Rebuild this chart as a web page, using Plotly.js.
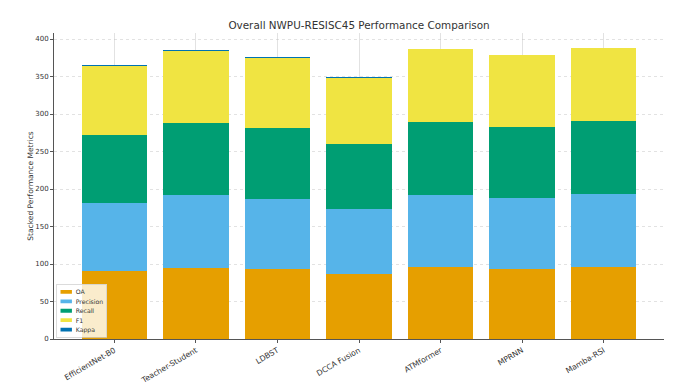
<!DOCTYPE html>
<html>
<head>
<meta charset="utf-8">
<script src="https://cdn.plot.ly/plotly-3.0.1.min.js"></script>
<style>html,body{margin:0;padding:0;background:#fff}#chart{width:680px;height:384px}</style>
</head>
<body>
<div id="chart"></div>
<script>
const categories = ["EfficientNet-B0", "Teacher-Student", "LDBST", "DCCA Fusion", "ATMformer", "MPRNN", "Mamba-RSI"];
const oa        = [90.7, 95.1, 93.3, 87.0, 95.6, 93.8, 96.0];
const precision = [91.1, 96.9, 93.4, 86.3, 96.8, 94.6, 96.9];
const recall    = [90.2, 96.0, 94.3, 86.7, 96.9, 94.7, 97.3];
const f1        = [91.9, 96.6, 93.9, 88.1, 96.9, 95.1, 97.4];
const kappa     = [0.89, 0.95, 0.92, 0.85, 0.96, 0.93, 0.96];

const seriesNames = ["OA", "Precision", "Recall", "F1", "Kappa"];
const seriesData = [oa, precision, recall, f1, kappa];
const colors = ["#E69F00", "#56B4E9", "#009E73", "#F0E442", "#0072B2"];

const traces = seriesNames.map((n, i) => ({
  type: "bar",
  name: n,
  x: categories,
  y: seriesData[i],
  width: 0.8,
  marker: {color: colors[i], line: {width: 0}}
}));

const font = "DejaVu Sans, sans-serif";
const gridCol = "rgba(190,190,190,0.55)";
const layout = {
  width: 680, height: 384,
  margin: {l: 54, r: 16, t: 33, b: 45},
  paper_bgcolor: "#fff", plot_bgcolor: "#fff",
  barmode: "stack",
  font: {family: font, size: 8, color: "#333"},
  title: {text: "Overall NWPU-RESISC45 Performance Comparison", x: 0.528, xanchor: "center", y: 0.935, yanchor: "middle", font: {family: font, size: 10.4, color: "#333"}},
  xaxis: {
    range: [-0.74, 6.74],
    tickangle: -30,
    tickfont: {size: 7.7, color: "#333"},
    showgrid: true, gridcolor: gridCol, gridwidth: 0.8,
    showline: true, linecolor: "#555", linewidth: 1,
    ticks: "outside", ticklen: 3, tickcolor: "#555",
    zeroline: false
  },
  yaxis: {
    range: [0, 408],
    tickvals: [0, 50, 100, 150, 200, 250, 300, 350, 400],
    tickfont: {size: 7, color: "#333"},
    showgrid: true, gridcolor: gridCol, gridwidth: 0.8, griddash: "dot",
    showline: true, linecolor: "#555", linewidth: 1,
    ticks: "outside", ticklen: 3, tickcolor: "#555",
    zeroline: false,
    title: {text: "Stacked Performance Metrics", font: {size: 7.5, color: "#333"}, standoff: 0}
  },
  legend: {
    x: 0.006, y: 0.01, xanchor: "left", yanchor: "bottom",
    bgcolor: "rgba(255,255,255,0.8)", bordercolor: "#cccccc", borderwidth: 1.5,
    font: {size: 13, color: "#333"},
    traceorder: "normal",
    tracegroupgap: 0
  },
  showlegend: true
};

Plotly.newPlot("chart", traces, layout, {displayModeBar: false, staticPlot: true}).then(() => {
  // compact the legend to the small matplotlib-like size
  const lg = document.querySelector("#chart .legend");
  if (!lg) return;
  lg.querySelectorAll(".legendpoints path").forEach(p => p.setAttribute("d", "M12,4H-12V-4H12Z"));
  const bb = lg.getBBox();
  const k = 53 / bb.height;
  lg.setAttribute("transform", "translate(56,284) scale(" + k + ")");
});
</script>
</body>
</html>
